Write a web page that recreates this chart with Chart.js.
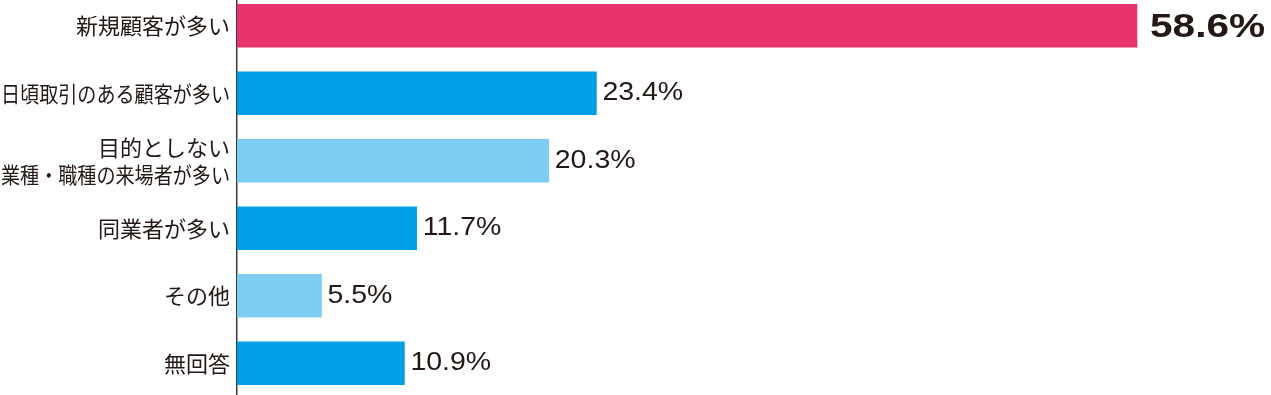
<!DOCTYPE html>
<html>
<head>
<meta charset="utf-8">
<script src="https://cdn.jsdelivr.net/npm/chart.js@4/dist/chart.umd.min.js"></script>
<style>
  html, body { margin: 0; padding: 0; background: #fff; overflow: hidden; width: 1271px; height: 395px; }
  #wrap { position: absolute; left: 0; top: -8px; width: 1271px; height: 405px; }
</style>
</head>
<body>
<div id="wrap"><canvas id="c"></canvas></div>
<script>
const categories = [
  ['新規顧客が多い'],
  ['日頃取引のある顧客が多い'],
  ['目的としない', '業種・職種の来場者が多い'],
  ['同業者が多い'],
  ['その他'],
  ['無回答']
];
const values = [58.6, 23.4, 20.3, 11.7, 5.5, 10.9];
const valueLabels = ['58.6%', '23.4%', '20.3%', '11.7%', '5.5%', '10.9%'];
const barColors = ['#E8336D', '#00A0E9', '#7ECEF4', '#00A0E9', '#7ECEF4', '#00A0E9'];

const TEXT = '#231815';

const labelPlugin = {
  id: 'labels',
  afterDatasetsDraw(chart) {
    const ctx = chart.ctx;
    const yScale = chart.scales.y;
    const meta = chart.getDatasetMeta(0);
    ctx.save();
    ctx.fillStyle = TEXT;
    // category labels
    ctx.font = '22px "Noto Sans CJK JP"';
    ctx.textAlign = 'right';
    ctx.textBaseline = 'middle';
    categories.forEach((lines, i) => {
      const yc = yScale.getPixelForValue(i);
      const lh = 27;
      const n = lines.length;
      lines.forEach((t, j) => {
        const y = yc + (j - (n - 1) / 2) * lh;
        ctx.fillText(t, 230, y, 229);
      });
    });
    // value labels
    ctx.textAlign = 'left';
    ctx.textBaseline = 'alphabetic';
    meta.data.forEach((bar, i) => {
      const big = i === 0;
      ctx.save();
      if (big) {
        ctx.font = 'bold 33px "Liberation Sans"';
        ctx.translate(bar.x + 13, bar.y + 11.5);
        ctx.scale(1.23, 1);
      } else {
        ctx.font = '25px "Liberation Sans"';
        ctx.translate(bar.x + 6, bar.y + 7);
        ctx.scale(1.14, 1);
      }
      ctx.fillText(valueLabels[i], 0, 0);
      ctx.restore();
    });
    ctx.restore();
  }
};

new Chart(document.getElementById('c'), {
  type: 'bar',
  data: {
    labels: categories,
    datasets: [{
      data: values,
      backgroundColor: barColors,
      borderWidth: 0,
      barThickness: 43
    }]
  },
  options: {
    indexAxis: 'y',
    responsive: true,
    maintainAspectRatio: false,
    animation: false,
    layout: { padding: { left: 0, right: 5, top: 0, bottom: 0 } },
    plugins: { legend: { display: false }, tooltip: { enabled: false } },
    scales: {
      x: {
        display: false,
        min: 0,
        max: 67
      },
      y: {
        afterFit(scale) { scale.width = 237; },
        grid: { display: false, drawTicks: false },
        border: { display: true, color: '#3e3a39', width: 1.5 },
        ticks: { display: false }
      }
    }
  },
  plugins: [labelPlugin]
});
</script>
</body>
</html>
